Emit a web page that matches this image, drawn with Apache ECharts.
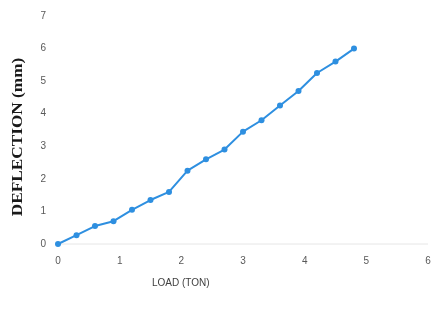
<!DOCTYPE html>
<html><head><meta charset="utf-8">
<script src="https://cdn.jsdelivr.net/npm/echarts@6/dist/echarts.min.js"></script>
<style>html,body{margin:0;padding:0;background:#fff}#c{width:435px;height:322px}</style>
</head><body><div id="c"></div>
<script>
var loadTon = [0, 0.3, 0.6, 0.9, 1.2, 1.5, 1.8, 2.1, 2.4, 2.7, 3.0, 3.3, 3.6, 3.9, 4.2, 4.5, 4.8];
var deflection = [0, 0.27, 0.55, 0.7, 1.05, 1.35, 1.6, 2.25, 2.6, 2.9, 3.45, 3.8, 4.25, 4.7, 5.25, 5.6, 6.0];
var xTitle = 'LOAD (TON)';
var yTitle = 'DEFLECTION (mm)';

var pts = loadTon.map(function(x, i){ return [x, deflection[i]]; });
var chart = echarts.init(document.getElementById('c'));
chart.setOption({
  animation: false,
  grid: {left: 58, right: 7, top: 16, bottom: 78},
  xAxis: {
    type: 'value', min: 0, max: 6, interval: 1,
    axisLine: {show: false}, axisTick: {show: false},
    splitLine: {show: false},
    axisLabel: {color: '#595959', fontSize: 10, fontFamily: 'Liberation Sans', margin: 12}
  },
  yAxis: {
    type: 'value', min: 0, max: 7, interval: 1,
    axisLine: {show: false}, axisTick: {show: false},
    splitLine: {show: false},
    axisLabel: {color: '#595959', fontSize: 10, fontFamily: 'Liberation Sans', margin: 12}
  },
  graphic: [
    {type: 'line', shape: {x1: 58, y1: 244, x2: 428, y2: 244}, style: {stroke: '#e6e6e6', lineWidth: 1}},
    {type: 'text', left: 152, top: 278, style: {text: xTitle, fill: '#404040', font: '10px "Liberation Sans"'}},
    {type: 'text', x: 18, y: 137, rotation: Math.PI/2, scaleX: 1.15, style: {text: yTitle, fill: '#1a1a1a', font: 'bold 15px "Liberation Serif"', align: 'center', verticalAlign: 'middle'}}
  ],
  series: [{
    type: 'line', data: pts,
    symbol: 'circle', symbolSize: 6,
    lineStyle: {color: '#2e8fe0', width: 2},
    itemStyle: {color: '#2e8fe0'}
  }]
});
</script></body></html>
